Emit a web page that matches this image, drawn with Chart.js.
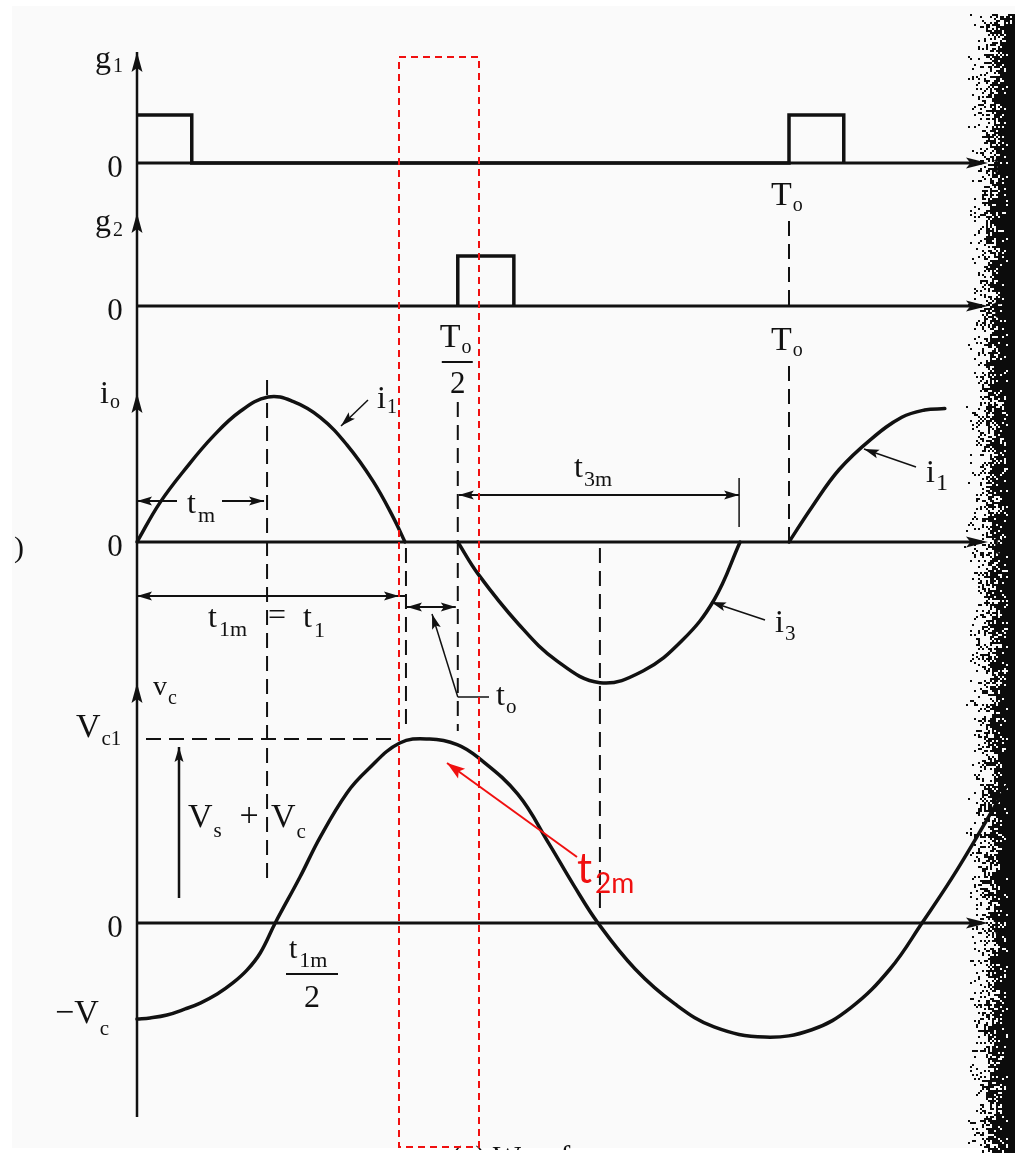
<!DOCTYPE html>
<html>
<head>
    <title>Waveforms</title>
    <script src="https://cdn.jsdelivr.net/npm/chart.js"></script>
    <style>
        body { margin: 0; background: #fff; }
        canvas { display: block; }
    </style>
</head>
<body>
    <canvas id="waveChart" width="1015" height="1153"></canvas>

    <script>
        // time is in units of T0/100
        const T0 = 100;

        // gate pulses (level 0/1)
        const g1Time  = [0, 8.4, 8.4, 100, 100, 108.4, 108.4];
        const g1Level = [1, 1,   0,   0,   1,   1,     0];
        const g2Time  = [49.2, 49.2, 57.8, 57.8];
        const g2Level = [0,    1,    1,    0];

        // load current, normalised to the peak of i1
        const i1Time = [0, 3.5, 7.7, 11.7, 15.8, 20.1, 23.9, 28.1, 32.2, 36.2, 39.3, 41.1];
        const i1Val  = [0, 0.27, 0.52, 0.73, 0.90, 1.0, 0.97, 0.86, 0.67, 0.42, 0.17, 0];
        const i3Time = [49.2, 52.3, 58.4, 64.4, 71.0, 77.6, 83.6, 88.5, 92.5];
        const i3Val  = [0, -0.22, -0.56, -0.82, -0.97, -0.89, -0.68, -0.40, 0];
        const i1NextTime = [100, 103.5, 107.7, 112.6, 117.3, 120.8, 123.9];
        const i1NextVal  = [0, 0.24, 0.50, 0.71, 0.86, 0.91, 0.92];

        // capacitor voltage, normalised to Vc1
        const vcTime = [0, 2.0, 4.6, 7.4, 9.7, 12.3, 14.7, 16.9, 18.9, 21.2, 25.0, 28.1, 32.2, 35.3, 40.3, 44.9,
                        49.1, 52.3, 58.4, 63.2, 66.9, 70.7, 76.4, 82.5, 88.5, 96.3, 103.5, 109.5, 115.5, 120.4, 125.8, 133.3];
        const vcVal  = [-0.522, -0.516, -0.50, -0.467, -0.435, -0.386, -0.326, -0.255, -0.163, 0, 0.25, 0.467, 0.707, 0.83, 0.978, 1.0,
                        0.97, 0.90, 0.70, 0.43, 0.21, 0, -0.25, -0.44, -0.565, -0.62, -0.58, -0.46, -0.25, 0, 0.29, 0.74];

        // marked instants and levels
        const tm = 20.1, t1m = 41.1, halfT0 = 49.2, i3Trough = 71.0, t3mEnd = 92.5;
        const Vc1 = 1.0, negVc = -0.52;
        const zeroTick = '0';

        const W = 1015, H = 1153;
        const ORIGIN_X = 137, PX_PER_T = 6.52;
        const ink = '#111';
        const red = '#f01010';
        const serif = '"Liberation Serif", "DejaVu Serif", serif';
        const sans = 'Lato, "Open Sans", sans-serif';

        function points(ts, vs) {
            return ts.map((t, i) => ({ x: t, y: vs[i] }));
        }
        function yRange(zeroPx, pxPerUnit) {
            return { min: (zeroPx - H) / pxPerUnit, max: zeroPx / pxPerUnit };
        }
        function trace(ts, vs, axis, smooth) {
            return {
                data: points(ts, vs),
                yAxisID: axis,
                borderColor: ink,
                borderWidth: 3.5,
                pointRadius: 0,
                fill: false,
                tension: smooth ? 0.4 : 0,
                borderJoinStyle: smooth ? 'round' : 'miter',
                borderCapStyle: smooth ? 'round' : 'butt'
            };
        }

        function put(ctx, s, x, y, size, align, font) {
            ctx.font = size + 'px ' + (font || serif);
            ctx.textAlign = align || 'left';
            ctx.fillText(s, x, y);
        }
        // base text with a subscript right after it
        function sub(ctx, base, s, x, y, size, subSize, drop, gap) {
            put(ctx, base, x, y, size);
            const w = ctx.measureText(base).width;
            put(ctx, s, x + w + (gap || 1), y + drop, subSize);
        }
        function seg(ctx, x1, y1, x2, y2, w) {
            ctx.lineWidth = w;
            ctx.beginPath();
            ctx.moveTo(x1, y1);
            ctx.lineTo(x2, y2);
            ctx.stroke();
        }
        function head(ctx, tx, ty, fx, fy, len, half) {
            const a = Math.atan2(ty - fy, tx - fx);
            const c = Math.cos(a), s = Math.sin(a);
            ctx.beginPath();
            ctx.moveTo(tx, ty);
            ctx.lineTo(tx - len * c + half * s, ty - len * s - half * c);
            ctx.lineTo(tx - len * 0.8 * c, ty - len * 0.8 * s);
            ctx.lineTo(tx - len * c - half * s, ty - len * s + half * c);
            ctx.closePath();
            ctx.fill();
        }
        function arrow(ctx, fx, fy, tx, ty, w) {
            seg(ctx, fx, fy, tx, ty, w);
            head(ctx, tx, ty, fx, fy, 15, 4.5);
        }
        function span(ctx, x1, x2, y) {
            seg(ctx, x1, y, x2, y, 2);
            head(ctx, x1, y, x2, y, 15, 4.5);
            head(ctx, x2, y, x1, y, 15, 4.5);
        }

        const panels = [
            { axis: 'yG1', top: 52 },
            { axis: 'yG2', top: 213 },
            { axis: 'yIo', top: 393 },
            { axis: 'yVc', top: 683 }
        ];

        const paper = {
            id: 'paper',
            beforeDraw(chart) {
                const ctx = chart.ctx;
                ctx.save();
                ctx.fillStyle = '#ffffff';
                ctx.fillRect(0, 0, W, H);
                ctx.fillStyle = '#fafafa';
                ctx.fillRect(12, 6, W - 12, H - 11);
                ctx.restore();
            }
        };

        const furniture = {
            id: 'furniture',
            afterDatasetsDraw(chart) {
                const ctx = chart.ctx;
                const X = t => chart.scales.x.getPixelForValue(t);
                const Y = (id, v) => chart.scales[id].getPixelForValue(v);
                const x0 = X(0), xTip = 988;

                ctx.save();
                ctx.fillStyle = ink;
                ctx.strokeStyle = ink;
                ctx.textBaseline = 'alphabetic';

                // axes
                seg(ctx, x0, 52, x0, 1117, 2.5);
                panels.forEach(p => {
                    const y0 = Y(p.axis, 0);
                    head(ctx, x0, p.top, x0, p.top + 30, 20, 5.5);
                    seg(ctx, x0, y0, xTip - 6, y0, 3);
                    head(ctx, xTip, y0, xTip - 30, y0, 22, 5.5);
                    put(ctx, 't', 993, y0 + 12, 32);
                    put(ctx, zeroTick, 115, y0 + 14, 31, 'center');
                });

                // panel names
                sub(ctx, 'g', '1', 95, 68, 32, 20, 4, 2);
                sub(ctx, 'g', '2', 95, 231, 32, 20, 5, 2);
                sub(ctx, 'i', 'o', 100, 403, 32, 20, 5, 1);
                sub(ctx, 'v', 'c', 153, 695, 28, 20, 9, 1);

                // T0 and T0/2 marks
                [205, 350].forEach(yb => sub(ctx, 'T', 'o', X(T0) - 18, yb, 34, 20, 6, 1));
                sub(ctx, 'T', 'o', X(halfT0) - 18, 347, 34, 20, 6, 1);
                seg(ctx, X(halfT0) - 16, 362, X(halfT0) + 15, 362, 2);
                put(ctx, '2', X(halfT0), 393, 31, 'center');

                // dashed guides
                ctx.setLineDash([15, 8]);
                seg(ctx, X(T0), 221, X(T0), 306, 2);
                seg(ctx, X(T0), 366, X(T0), Y('yIo', 0), 2);
                seg(ctx, X(tm) - 1, 380, X(tm) - 1, 884, 2);
                seg(ctx, X(t1m) + 1, 548, X(t1m) + 1, 724, 2);
                seg(ctx, X(halfT0), 402, X(halfT0), 731, 2);
                seg(ctx, X(i3Trough), 548, X(i3Trough), 911, 2);
                seg(ctx, 146, Y('yVc', Vc1), X(t1m) - 6, Y('yVc', Vc1), 2);
                ctx.setLineDash([]);

                // tm
                arrow(ctx, 177, 501, x0, 501, 2);
                arrow(ctx, 222, 501, X(tm) - 4, 501, 2);
                sub(ctx, 't', 'm', 187, 513, 32, 22, 9, 2);

                // t1m = t1 and the step to t0
                span(ctx, x0, X(t1m) - 6, 596);
                seg(ctx, X(t1m) - 6, 596, X(t1m) + 1, 596, 2);
                seg(ctx, X(t1m) + 1, 595, X(t1m) + 1, 608, 2);
                sub(ctx, 't', '1m', 208, 627, 32, 22, 9, 2);
                put(ctx, '=', 277, 625, 32, 'center');
                sub(ctx, 't', '1', 303, 627, 32, 22, 10, 2);

                // t0
                span(ctx, X(t1m) + 2, X(halfT0) - 2, 607);
                arrow(ctx, X(halfT0), 697, 432, 614, 1.5);
                seg(ctx, X(halfT0), 697, 489, 697, 1.5);
                sub(ctx, 't', 'o', 496, 705, 32, 21, 8, 1);

                // t3m
                span(ctx, X(halfT0) + 1, X(t3mEnd) - 1, 495);
                seg(ctx, X(t3mEnd) - 1, 478, X(t3mEnd) - 1, 527, 1.5);
                sub(ctx, 't', '3m', 574, 477, 32, 22, 9, 1);

                // current labels
                arrow(ctx, 368, 400, 341, 426, 1.5);
                sub(ctx, 'i', '1', 377, 408, 32, 20, 5, 1);
                arrow(ctx, 765, 620, 711, 602, 1.5);
                sub(ctx, 'i', '3', 775, 632, 32, 21, 8, 1);
                arrow(ctx, 916, 467, 864, 449, 1.5);
                sub(ctx, 'i', '1', 926, 482, 32, 24, 8, 1);

                // voltage labels
                sub(ctx, 'V', 'c1', 76, Y('yVc', Vc1) - 2, 34, 21, 8, 1);
                sub(ctx, '\u2212V', 'c', 55, Y('yVc', negVc) + 4, 34, 21, 12, 1);
                arrow(ctx, 179, 898, 179, 747, 2.5);
                sub(ctx, 'V', 's', 188, 827, 34, 21, 10, 1);
                put(ctx, '+', 249, 826, 34, 'center');
                sub(ctx, 'V', 'c', 271, 827, 34, 21, 11, 1);
                sub(ctx, 't', '1m', 289, 958, 30, 22, 9, 2);
                seg(ctx, 286, 974, 338, 974, 2);
                put(ctx, '2', 312, 1007, 32, 'center');

                // stray marks at the page edges
                put(ctx, ')', 14, 557, 30);
                ctx.save();
                ctx.beginPath();
                ctx.rect(0, 0, W, 1150);
                ctx.clip();
                put(ctx, '(a) Waveforms', 452, 1166, 30);
                ctx.restore();

                // highlighted interval t2m
                ctx.strokeStyle = red;
                ctx.fillStyle = red;
                ctx.setLineDash([7, 5]);
                ctx.lineWidth = 2;
                ctx.strokeRect(399, 57, 80, 1090);
                ctx.setLineDash([]);
                seg(ctx, 577, 857, 447, 763, 2);
                head(ctx, 447, 763, 577, 857, 18, 6);
                put(ctx, 't', 577, 883, 42, 'left', sans);
                put(ctx, '2m', 595, 893, 28, 'left', sans);
                ctx.restore();
            }
        };

        function noise(a, b) {
            let h = Math.imul(a, 374761393) ^ Math.imul(b + 7919, 668265263);
            h = Math.imul(h ^ (h >>> 13), 1274126177);
            return ((h ^ (h >>> 16)) >>> 0) / 4294967296;
        }

        // dark scanned page edge on the right
        const scanEdge = {
            id: 'scanEdge',
            afterDraw(chart) {
                const ctx = chart.ctx;
                ctx.save();
                ctx.fillStyle = '#0c0c0c';
                for (let y = 14; y < H; y += 2) {
                    const taper = y < 60 ? (60 - y) / 4 : 0;
                    const edge = Math.round(997 + taper + 10 * noise(3, y >> 3) - 5);
                    for (let x = 962; x < W; x += 2) {
                        const n = noise(x, y);
                        let p;
                        if (x >= edge) p = x > 1006 ? 1 : 0.9;
                        else p = Math.pow((x - 962) / (edge - 962), 2.2) * 0.85;
                        if (n < p) ctx.fillRect(x, y, 2, 2);
                    }
                }
                ctx.restore();
            }
        };

        const ctx = document.getElementById('waveChart').getContext('2d');
        const chart = new Chart(ctx, {
            type: 'line',
            data: {
                datasets: [
                    trace(g1Time, g1Level, 'yG1', false),
                    trace(g2Time, g2Level, 'yG2', false),
                    trace(i1Time, i1Val, 'yIo', true),
                    trace(i3Time, i3Val, 'yIo', true),
                    trace(i1NextTime, i1NextVal, 'yIo', true),
                    trace(vcTime, vcVal, 'yVc', true)
                ]
            },
            options: {
                responsive: false,
                animation: false,
                events: [],
                layout: { padding: 0 },
                plugins: {
                    legend: { display: false },
                    tooltip: { enabled: false }
                },
                scales: {
                    x: { type: 'linear', display: false, min: -ORIGIN_X / PX_PER_T, max: (W - ORIGIN_X) / PX_PER_T },
                    yG1: { type: 'linear', display: false, ...yRange(163, 48) },
                    yG2: { type: 'linear', display: false, ...yRange(306, 50) },
                    yIo: { type: 'linear', display: false, ...yRange(542, 145) },
                    yVc: { type: 'linear', display: false, ...yRange(923, 184) }
                }
            },
            plugins: [paper, furniture, scanEdge]
        });
    </script>
</body>
</html>
